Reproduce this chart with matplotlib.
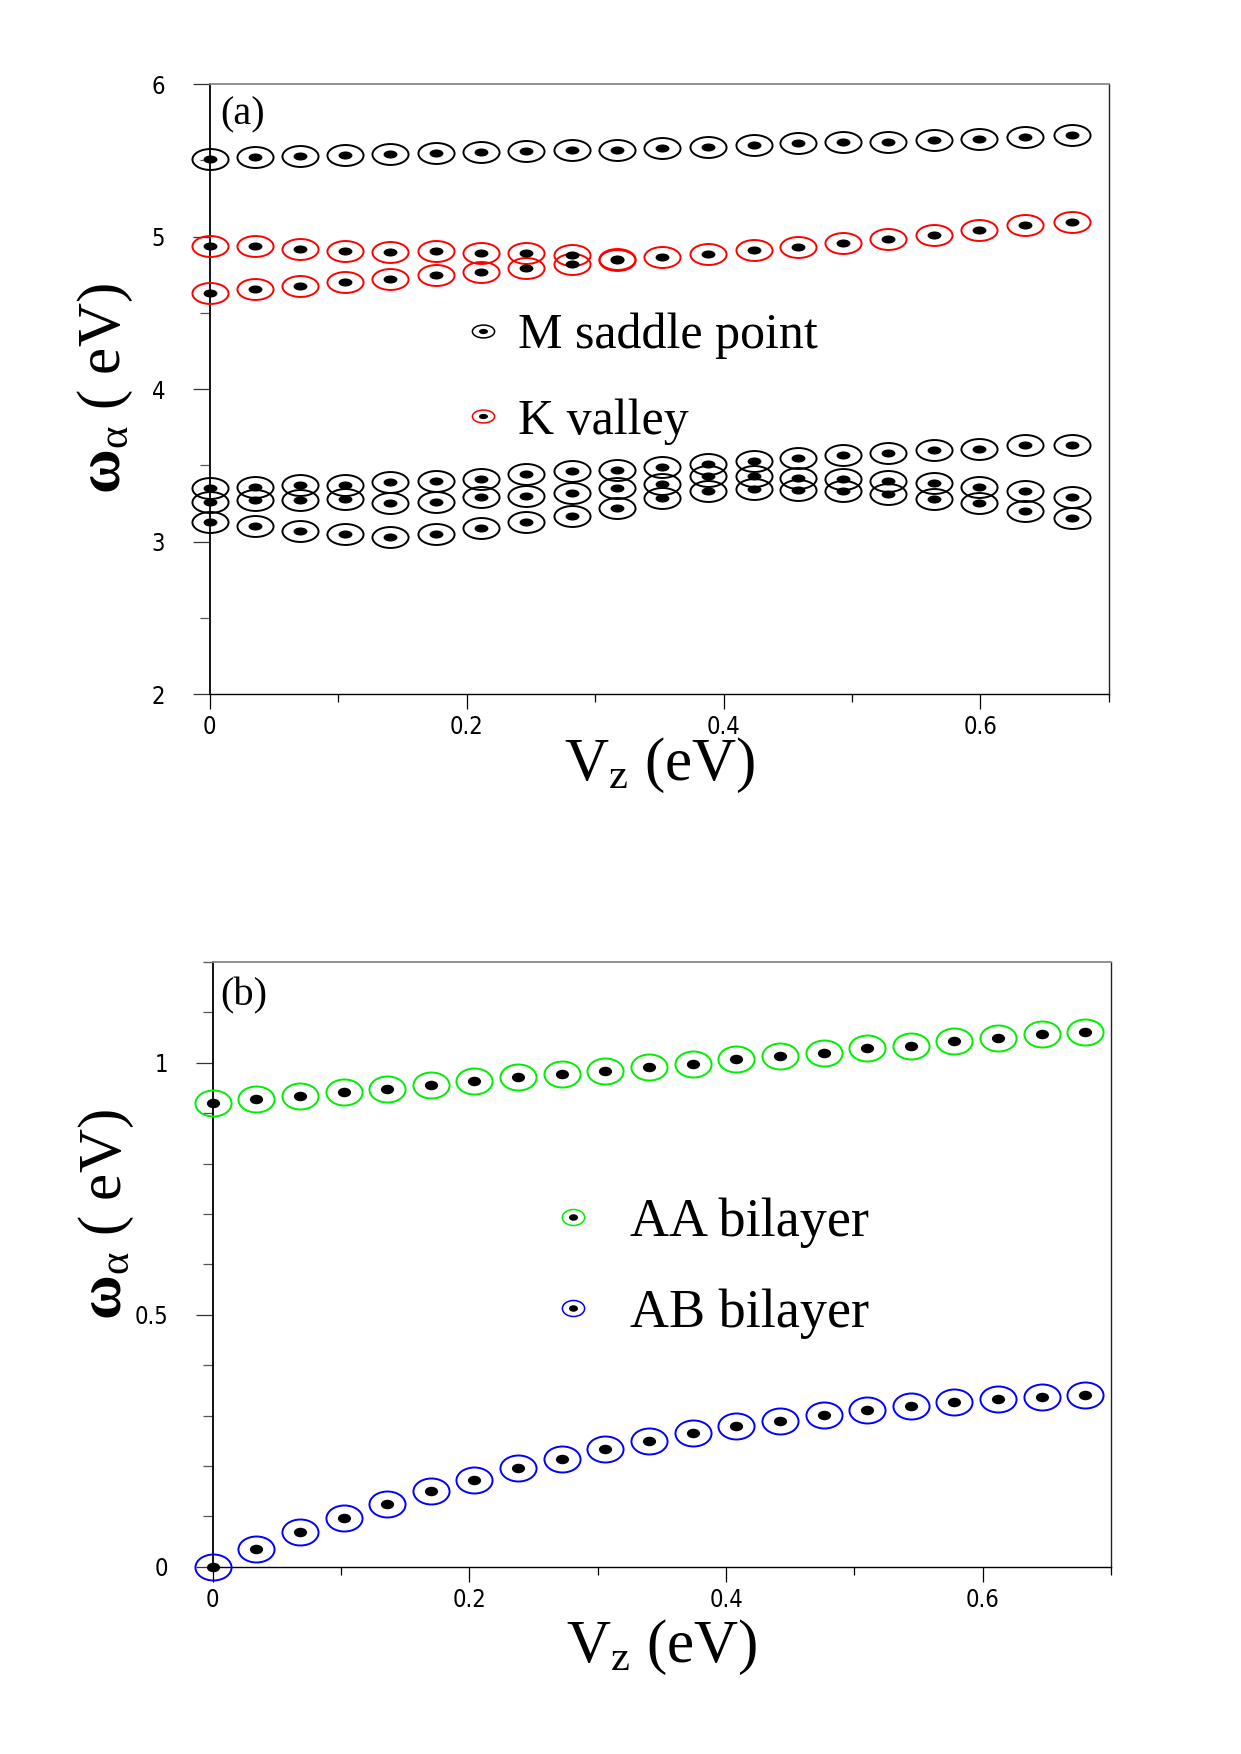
import numpy as np
import matplotlib
matplotlib.use('Agg')
import matplotlib.pyplot as plt
from matplotlib.path import Path
from matplotlib.lines import Line2D
from matplotlib.ticker import FixedLocator, FuncFormatter
from matplotlib import font_manager

plt.rcParams['mathtext.fontset'] = 'custom'
plt.rcParams['mathtext.rm'] = 'Liberation Serif'
plt.rcParams['mathtext.it'] = 'Liberation Serif:italic'
plt.rcParams['mathtext.bf'] = 'Liberation Serif:bold'

###############################################################################
# Data

# panel (a): M saddle point (black) and K valley (red)
vz_a = [0.0, 0.035, 0.070, 0.105, 0.140, 0.176, 0.211, 0.246, 0.282, 0.317,
        0.352, 0.388, 0.424, 0.458, 0.493, 0.528, 0.564, 0.599, 0.635, 0.671]
m_top = [5.51, 5.52, 5.53, 5.535, 5.54, 5.55, 5.555, 5.56, 5.57, 5.57,
         5.58, 5.59, 5.60, 5.61, 5.62, 5.62, 5.635, 5.64, 5.655, 5.665]
m_high = [3.35, 3.36, 3.37, 3.37, 3.39, 3.40, 3.41, 3.44, 3.46, 3.47,
          3.49, 3.51, 3.53, 3.55, 3.57, 3.58, 3.60, 3.61, 3.63, 3.63]
m_mid = [3.26, 3.27, 3.27, 3.28, 3.25, 3.26, 3.29, 3.30, 3.32, 3.35,
         3.375, 3.43, 3.43, 3.415, 3.41, 3.40, 3.385, 3.355, 3.33, 3.29]
m_low = [3.13, 3.10, 3.07, 3.05, 3.03, 3.05, 3.09, 3.13, 3.17, 3.22,
         3.285, 3.33, 3.345, 3.34, 3.33, 3.31, 3.28, 3.25, 3.20, 3.155]
k_upper = [4.94, 4.935, 4.915, 4.905, 4.90, 4.905, 4.895, 4.89, 4.88, 4.85,
           4.865, 4.885, 4.91, 4.93, 4.955, 4.985, 5.01, 5.04, 5.075, 5.095]
k_lower = [4.63, 4.655, 4.675, 4.70, 4.72, 4.75, 4.77, 4.795, 4.82, 4.845]

# panel (b): AA bilayer (green) and AB bilayer (blue)
vz_b = [0.0, 0.034, 0.068, 0.102, 0.136, 0.170, 0.204, 0.238, 0.272, 0.306,
        0.340, 0.374, 0.408, 0.442, 0.476, 0.510, 0.544, 0.578, 0.612, 0.646,
        0.680]
aa = [0.921, 0.928, 0.935, 0.942, 0.949, 0.957, 0.963, 0.971, 0.977, 0.984,
      0.991, 0.997, 1.007, 1.014, 1.020, 1.029, 1.034, 1.043, 1.050, 1.057,
      1.062]
ab = [0.0, 0.035, 0.068, 0.097, 0.124, 0.151, 0.173, 0.195, 0.214, 0.234,
      0.250, 0.266, 0.279, 0.290, 0.302, 0.311, 0.319, 0.327, 0.332, 0.336,
      0.340]

serif = 'Liberation Serif'
names = {f.name for f in font_manager.fontManager.ttflist}
if 'Liberation Sans Narrow' in names:
    tickprop = dict(family='Liberation Sans Narrow')
else:
    tickprop = dict(family='DejaVu Sans', stretch='condensed')


def ellipse(ratio):
    c = Path.unit_circle()
    return Path(c.vertices * np.array([1.0, ratio]), c.codes)


def ringdot(ax, x, y, color, ratio, big, small, lw=1.4):
    ax.plot(x, y, ls='none', marker=ellipse(ratio), ms=big, mfc='none',
            mec=color, mew=lw, clip_on=False, zorder=3)
    ax.plot(x, y, ls='none', marker=ellipse(ratio), ms=small, mfc='k',
            mec='k', mew=0, clip_on=False, zorder=4)


def legend_handle(color, ratio):
    outer = Line2D([], [], ls='none', marker=ellipse(ratio), ms=16,
                   mfc='none', mec=color, mew=1.1)
    inner = Line2D([], [], ls='none', marker=ellipse(ratio), ms=6.5,
                   mfc='k', mec='k', mew=0)
    return (outer, inner)


def style_axes(ax, xlim, ylim, ymajor, yminor):
    ax.set_xlim(*xlim)
    ax.set_ylim(*ylim)
    ax.xaxis.set_major_locator(FixedLocator([0, 0.2, 0.4, 0.6]))
    ax.xaxis.set_minor_locator(FixedLocator([0.1, 0.3, 0.5, 0.7]))
    ax.yaxis.set_major_locator(FixedLocator(ymajor))
    ax.yaxis.set_minor_locator(FixedLocator(yminor))
    fmt = FuncFormatter(lambda v, p: '%g' % v)
    ax.xaxis.set_major_formatter(fmt)
    ax.yaxis.set_major_formatter(fmt)
    ax.tick_params(axis='y', which='major', length=12, width=0.9,
                   direction='out', pad=20, color='#333333')
    ax.tick_params(axis='y', which='minor', length=7, width=0.9,
                   direction='out', color='#555555')
    ax.tick_params(axis='x', which='major', length=11, width=0.9,
                   direction='out', pad=4)
    ax.tick_params(axis='x', which='minor', length=6, width=0.9,
                   direction='out')
    for lab in ax.get_xticklabels() + ax.get_yticklabels():
        lab.set(**tickprop)
        lab.set_fontsize(17)
    ax.spines['left'].set_linewidth(1.3)
    ax.spines['bottom'].set_linewidth(1.0)
    ax.spines['top'].set_color('#888888')
    ax.spines['top'].set_linewidth(1.3)
    ax.spines['right'].set_color('#222222')
    ax.spines['right'].set_linewidth(1.0)


ylab = r'$\mathbf{\omega}_{\mathrm{\alpha}}$ ( eV)'
xlab = r'$\mathrm{V_z}$ (eV)'

fig = plt.figure(figsize=(12.41, 17.54), dpi=100)

###############################################################################
# Panel (a)
ax1 = fig.add_axes([0.169, 0.6043, 0.7246, 0.3478])
ra = 0.58
for ys in (m_top, m_high, m_mid, m_low):
    ringdot(ax1, vz_a, ys, 'k', ra, 26, 10)
ringdot(ax1, vz_a, k_upper, 'red', ra, 26, 10)
ringdot(ax1, vz_a[:len(k_lower)], k_lower, 'red', ra, 26, 10)
style_axes(ax1, (0, 0.7), (2, 6), [2, 3, 4, 5, 6], [2.5, 3.5, 4.5, 5.5])
ax1.text(0.012, 0.95, '(a)', transform=ax1.transAxes, fontsize=29,
         family=serif, va='center', ha='left')
ax1.set_ylabel(ylab, fontsize=44, family=serif)
ax1.yaxis.set_label_coords(-0.083, 0.5)
ax1.set_xlabel(xlab, fontsize=44, family=serif)
ax1.xaxis.set_label_coords(0.5, -0.069)
ax1.legend([legend_handle('k', ra), legend_handle('red', ra)],
           ['M saddle point', 'K valley'], loc='center left',
           bbox_to_anchor=(0.276, 0.5165), frameon=False, handlelength=1.0,
           handletextpad=0.2, labelspacing=0.78, borderpad=0,
           borderaxespad=0, prop={'family': serif, 'size': 36})

###############################################################################
# Panel (b)
ax2 = fig.add_axes([0.1713, 0.1068, 0.7240, 0.3447])
rb = 0.72
ringdot(ax2, vz_b, aa, '#00ee00', rb, 26, 9.5)
ringdot(ax2, vz_b, ab, 'blue', rb, 26, 9.5)
style_axes(ax2, (0, 0.7), (0, 1.2), [0, 0.5, 1],
           [0.1, 0.2, 0.3, 0.4, 0.6, 0.7, 0.8, 0.9, 1.1, 1.2])
ax2.text(0.009, 0.944, '(b)', transform=ax2.transAxes, fontsize=29,
         family=serif, va='center', ha='left')
ax2.set_ylabel(ylab, fontsize=44, family=serif)
ax2.yaxis.set_label_coords(-0.085, 0.583)
ax2.set_xlabel(xlab, fontsize=44, family=serif)
ax2.xaxis.set_label_coords(0.5, -0.084)
ax2.legend([legend_handle('#00ee00', rb), legend_handle('blue', rb)],
           ['AA bilayer', 'AB bilayer'], loc='center left',
           bbox_to_anchor=(0.371, 0.493), frameon=False, handlelength=1.0,
           handletextpad=0.55, labelspacing=0.75, borderpad=0,
           borderaxespad=0, prop={'family': serif, 'size': 39})

fig.savefig('out.png', dpi=100)
